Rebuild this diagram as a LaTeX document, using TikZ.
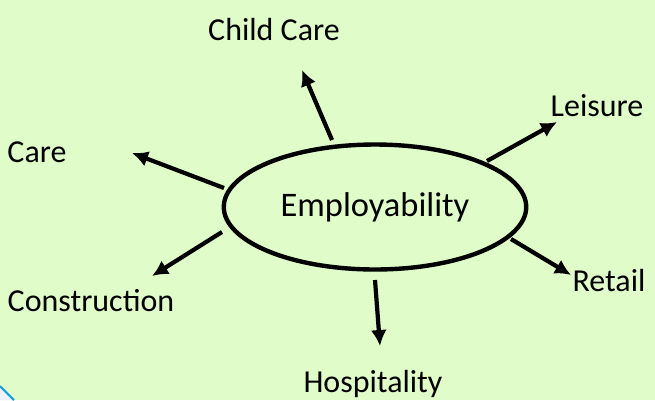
\documentclass[tikz,border=0pt]{standalone}
\usepackage{fontspec}
\setmainfont{Carlito}
\usetikzlibrary{arrows.meta,shapes.geometric,positioning}
\definecolor{bgreen}{HTML}{E0FCC9}
\definecolor{cornerblue}{HTML}{1AA0E0}
\tikzset{%
	hub/.style      = {draw, ellipse, line width=2.5pt, minimum width=6.05cm, minimum height=2.5cm, font=\fontsize{19.6}{23}\selectfont},
	sector/.style   = {font=\fontsize{18.2}{21}\selectfont}, % outer labels
	spoke/.style    = {line width=2.4pt, -{Latex[length=3.2mm,width=3.2mm]}},
}
\begin{document}
\begin{tikzpicture}[x=0.02cm,y=-0.02cm]
	\fill[bgreen] (0,0) rectangle (655,400);
	\useasboundingbox (0,0) rectangle (655,400);
	\fill[blue!6] (0,386) -- (6,392) -- (14,400) -- (0,400) -- cycle;
	\draw[cornerblue, line width=1.2pt] (0,386) -- (14,400);

	\node [hub] (emp) at (375,207) {Employability};

	\node [sector] (child) at (274,30) {Child Care};
	\node [sector] (leis) at (597,106) {Leisure};
	\node [sector] (care) at (37,152) {Care};
	\node [sector] (cons) at (91,301) {Construction};
	\node [sector] (ret) at (609,281) {Retail};
	\node [sector] (hosp) at (373,384) {Hospitality};

	% arrow ends
	\coordinate (c1) at (332,140); \coordinate (c2) at (302,70);
	\coordinate (l1) at (487,161); \coordinate (l2) at (557,122);
	\coordinate (k1) at (224,188); \coordinate (k2) at (132,153);
	\coordinate (n1) at (222,232); \coordinate (n2) at (152,276);
	\coordinate (r1) at (511,239); \coordinate (r2) at (571,275);
	\coordinate (h1) at (375,280); \coordinate (h2) at (380,346);

	\draw[spoke] (c1) -- (c2);
	\draw[spoke] (l1) -- (l2);
	\draw[spoke] (k1) -- (k2);
	\draw[spoke] (n1) -- (n2);
	\draw[spoke] (r1) -- (r2);
	\draw[spoke] (h1) -- (h2);
\end{tikzpicture}
\end{document}
